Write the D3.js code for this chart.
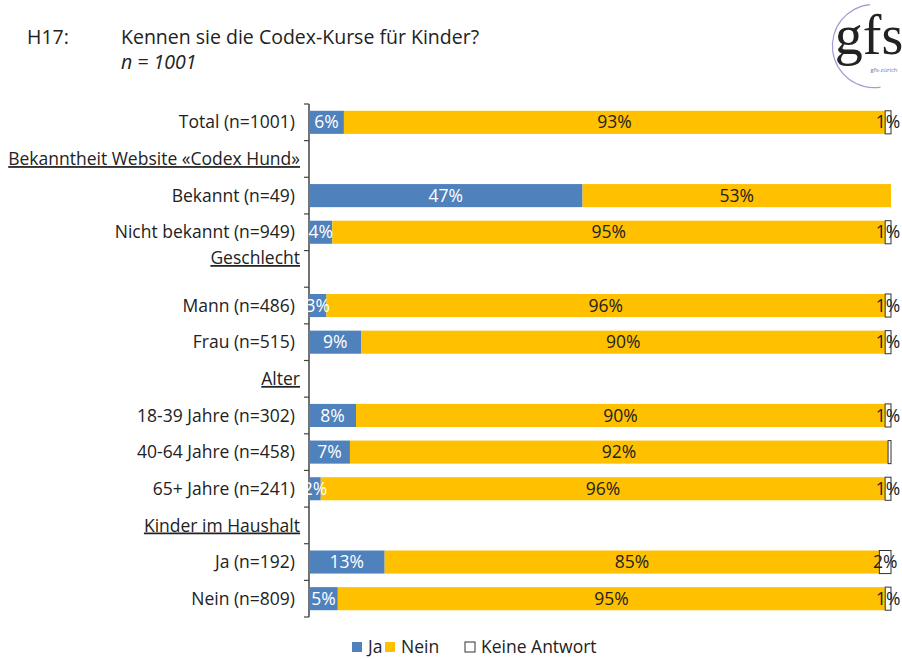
<!DOCTYPE html>
<html>
<head>
<meta charset="utf-8">
<script src="https://cdn.jsdelivr.net/npm/d3@7"></script>
<style>
  body { margin: 0; background: #fff; }
  svg { font-family: "Open Sans", "Noto Sans", sans-serif; }
</style>
</head>
<body>
<script>
// data
const categories = ['Total (n=1001)', 'Bekanntheit Website «Codex Hund»', 'Bekannt (n=49)', 'Nicht bekannt (n=949)',
  'Geschlecht', 'Mann (n=486)', 'Frau (n=515)', 'Alter', '18-39 Jahre (n=302)', '40-64 Jahre (n=458)',
  '65+ Jahre (n=241)', 'Kinder im Haushalt', 'Ja (n=192)', 'Nein (n=809)']
const headers = ['Bekanntheit Website «Codex Hund»', 'Geschlecht', 'Alter', 'Kinder im Haushalt']
const ja    = [6, null, 47, 4, null, 3, 9, null, 8, 7, 2, null, 13, 5]
const nein  = [93, null, 53, 95, null, 96, 90, null, 90, 92, 96, null, 85, 95]
const keine = [1, null, 0, 1, null, 1, 1, null, 1, 0.5, 1, null, 2, 1]
const seriesNames = ['Ja', 'Nein', 'Keine Antwort']
const colors = ['#4F81BD', '#FFC000', '#FFFFFF']

const W = 902, H = 659
const svg = d3.select('body').append('svg').attr('width', W).attr('height', H)

// title
svg.append('text').attr('x', 27).attr('y', 44).attr('font-size', 19.5).attr('fill', '#222').text('H17:')
svg.append('text').attr('x', 121).attr('y', 44).attr('font-size', 19.5).attr('fill', '#222').text('Kennen sie die Codex-Kurse für Kinder?')
svg.append('text').attr('x', 121).attr('y', 69).attr('font-size', 19.5).attr('font-style', 'italic').attr('fill', '#222').text('n = 1001')

// logo
const logo = svg.append('g')
logo.append('path')
  .attr('d', d3.arc()({ innerRadius: 41, outerRadius: 42.2, startAngle: Math.PI * 0.95, endAngle: Math.PI * 1.97 }))
  .attr('transform', 'translate(874,46)')
  .attr('fill', '#a09ed8')
logo.append('text').attr('x', 869).attr('y', 54).attr('text-anchor', 'middle')
  .attr('font-family', '"Liberation Serif", "DejaVu Serif", serif').attr('font-size', 56).attr('fill', '#222').text('gfs')
logo.append('text').attr('x', 884).attr('y', 72).attr('text-anchor', 'middle')
  .attr('font-size', 6).attr('fill', '#7070b0').text('gfs-zürich')

// scales
const x = d3.scaleLinear().domain([0, 1]).range([309, 891])
const y = d3.scaleBand().domain(categories).range([104, 617]).paddingInner(0.37).paddingOuter(0.185)
const yb = d3.scaleBand().domain(categories).range([104, 617])

const rows = categories.map((c, i) => ({ cat: c, Ja: ja[i], Nein: nein[i], 'Keine Antwort': keine[i] }))
  .filter(d => d.Ja !== null)
const stack = d3.stack().keys(seriesNames).offset(d3.stackOffsetExpand)
const layers = stack(rows)

// axis
svg.append('line').attr('x1', 309).attr('x2', 309).attr('y1', 104).attr('y2', 617)
  .attr('stroke', '#444').attr('stroke-width', 1.5)
const bounds = categories.map(c => yb(c)).concat([617])
svg.selectAll('.tick').data(bounds).join('line')
  .attr('x1', 304).attr('x2', 309).attr('y1', d => d).attr('y2', d => d)
  .attr('stroke', '#444').attr('stroke-width', 1.2)

// category labels
svg.selectAll('.cat').data(categories).join('text')
  .attr('x', d => headers.includes(d) ? 300 : 295)
  .attr('y', d => yb(d) + yb.bandwidth() / 2 + (d === 'Geschlecht' ? -11 : 0))
  .attr('dy', '0.35em').attr('text-anchor', 'end')
  .attr('font-size', 17.5).attr('fill', '#222')
  .attr('text-decoration', d => headers.includes(d) ? 'underline' : null)
  .text(d => d)

// bars
layers.forEach((layer, li) => {
  const g = svg.append('g')
  g.selectAll('rect').data(layer.filter(d => d[1] - d[0] > 0)).join('rect')
    .attr('x', d => x(d[0]))
    .attr('y', d => y(d.data.cat))
    .attr('width', d => x(d[1]) - x(d[0]))
    .attr('height', y.bandwidth())
    .attr('fill', colors[li])
    .attr('stroke', li === 2 ? '#333' : null)
    .attr('stroke-width', li === 2 ? 1 : null)
})

// value labels
layers.forEach((layer, li) => {
  const key = seriesNames[li]
  svg.append('g').selectAll('text')
    .data(layer.filter(d => d.data[key] >= 1))
    .join('text')
    .attr('x', d => (x(d[0]) + x(d[1])) / 2)
    .attr('y', d => y(d.data.cat) + y.bandwidth() / 2)
    .attr('dy', '0.35em').attr('text-anchor', 'middle')
    .attr('font-size', 17.5)
    .attr('fill', li === 0 ? '#fff' : '#222')
    .text(d => Math.round(d.data[key]) + '%')
})

// legend
const legend = svg.append('g').attr('transform', 'translate(352,647)')
const lx = [0, 33, 113]
seriesNames.forEach((s, i) => {
  legend.append('rect').attr('x', lx[i]).attr('y', -5).attr('width', 10).attr('height', 10)
    .attr('fill', colors[i]).attr('stroke', i === 2 ? '#333' : null)
  legend.append('text').attr('x', lx[i] + 16).attr('y', 0).attr('dy', '0.35em')
    .attr('font-size', 17.5).attr('fill', '#222').text(s)
})
</script>
</body>
</html>
